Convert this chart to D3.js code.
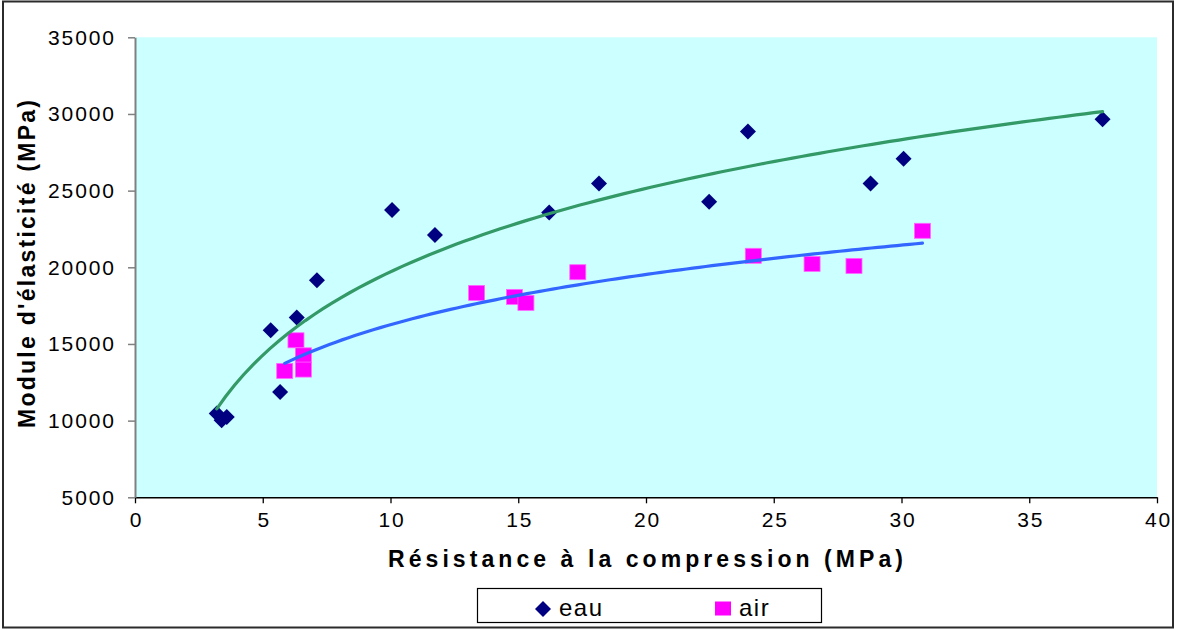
<!DOCTYPE html>
<html>
<head>
<meta charset="utf-8">
<script src="https://cdn.jsdelivr.net/npm/d3@7"></script>
<style>
  html, body { margin: 0; padding: 0; background: #ffffff; }
  svg { display: block; font-family: "Liberation Sans", Arial, sans-serif; }
</style>
</head>
<body>
<svg id="chart" width="1178" height="630"></svg>
<script>
// Compression strength (MPa) vs elastic modulus (MPa), two curing conditions
const eauX = [3.20, 3.39, 3.59, 5.68, 5.31, 6.33, 7.12, 10.06, 11.74, 16.21, 18.16, 22.47, 23.99, 28.79, 30.08, 37.87];
const eauY = [10460, 10020, 10240, 11870, 15900, 16720, 19160, 23730, 22100, 23580, 25470, 24270, 28850, 25470, 27080, 29650];
const airX = [5.86, 6.30, 6.59, 6.59, 13.37, 14.85, 15.30, 17.33, 24.20, 26.50, 28.14, 30.82];
const airY = [13240, 15240, 14260, 13330, 18330, 18070, 17680, 19680, 20750, 20220, 20090, 22380];
const xTicks = [0, 5, 10, 15, 20, 25, 30, 35, 40];
const yTicks = [5000, 10000, 15000, 20000, 25000, 30000, 35000];
const seriesNames = ["eau", "air"];

const svg = d3.select("#chart");

// outer frame
svg.append("rect")
  .attr("x", 3).attr("y", 1.5).attr("width", 1170).attr("height", 626)
  .attr("fill", "#ffffff").attr("stroke", "#2b2b2b").attr("stroke-width", 2);

const x = d3.scaleLinear().domain([0, 40]).range([135, 1157]);
const y = d3.scaleLinear().domain([5000, 35000]).range([497.3, 37.3]);

// plot background
svg.append("rect")
  .attr("x", x(0)).attr("y", y(35000))
  .attr("width", x(40) - x(0)).attr("height", y(5000) - y(35000))
  .attr("fill", "#ccffff");

// axes
const gx = svg.append("g").attr("transform", `translate(0,${y(5000)})`)
  .call(d3.axisBottom(x).tickValues(xTicks).tickSize(6).tickSizeOuter(0).tickPadding(9));
gx.select(".domain").attr("stroke", "#000").attr("stroke-width", 1.5);
gx.selectAll(".tick line").attr("stroke", "#000").attr("stroke-width", 1.3);
gx.selectAll(".tick text")
  .attr("fill", "#000").attr("font-size", 21).style("letter-spacing", "1.9px")
  .attr("font-family", "Liberation Sans, Arial, sans-serif")
  .attr("dx", "0.95px");

const gy = svg.append("g").attr("transform", `translate(${x(0)},0)`)
  .call(d3.axisLeft(y).tickValues(yTicks).tickSize(7).tickSizeOuter(0).tickPadding(14).tickFormat(d3.format("d")));
gy.select(".domain").attr("stroke", "#808080").attr("stroke-width", 2);
gy.selectAll(".tick line").attr("stroke", "#808080").attr("stroke-width", 1.5);
gy.selectAll(".tick text")
  .attr("fill", "#000").attr("font-size", 21).style("letter-spacing", "1.9px")
  .attr("font-family", "Liberation Sans, Arial, sans-serif")
  .attr("dx", "1.9px");

// logarithmic least-squares trend: y = a*ln(x) + b
function logFit(xs, ys) {
  const lx = xs.map(Math.log);
  const mx = d3.mean(lx), my = d3.mean(ys);
  let sxy = 0, sxx = 0;
  lx.forEach((v, i) => { sxy += (v - mx) * (ys[i] - my); sxx += (v - mx) * (v - mx); });
  const a = sxy / sxx;
  const b = my - a * mx;
  const [lo, hi] = d3.extent(xs);
  return d3.range(0, 101).map(i => {
    const xv = lo + (hi - lo) * i / 100;
    return [xv, a * Math.log(xv) + b];
  });
}

const line = d3.line().x(d => x(d[0])).y(d => y(d[1]));

// markers
const diamond = d3.symbol().type(d3.symbolSquare).size(128);
svg.append("g").selectAll("path")
  .data(eauX.map((v, i) => [v, eauY[i]]))
  .join("path")
  .attr("d", diamond)
  .attr("transform", d => `translate(${x(d[0])},${y(d[1])}) rotate(45)`)
  .attr("fill", "#000080");

svg.append("g").selectAll("rect")
  .data(airX.map((v, i) => [v, airY[i]]))
  .join("rect")
  .attr("x", d => x(d[0]) - 8).attr("y", d => y(d[1]) - 7.5)
  .attr("width", 16).attr("height", 15)
  .attr("fill", "#ff00ff").attr("stroke", "#ff66ff").attr("stroke-width", 0.8);

// trend lines
svg.append("path").datum(logFit(eauX, eauY))
  .attr("d", line).attr("fill", "none")
  .attr("stroke", "#339966").attr("stroke-width", 3.2).attr("stroke-linecap", "round");
svg.append("path").datum(logFit(airX, airY))
  .attr("d", line).attr("fill", "none")
  .attr("stroke", "#3366ff").attr("stroke-width", 3.2).attr("stroke-linecap", "round");

// axis titles
svg.append("text")
  .attr("x", 645.5).attr("y", 567)
  .attr("text-anchor", "middle")
  .attr("font-size", 23).attr("font-weight", "bold")
  .attr("textLength", 515).attr("lengthAdjust", "spacing")
  .text("Résistance à la compression (MPa)");

svg.append("text")
  .attr("transform", "translate(35,264) rotate(-90)")
  .attr("text-anchor", "middle")
  .attr("font-size", 23).attr("font-weight", "bold")
  .attr("textLength", 328).attr("lengthAdjust", "spacing")
  .text("Module d'élasticité (MPa)");

// legend
const lg = svg.append("g");
lg.append("rect")
  .attr("x", 477.5).attr("y", 588.5).attr("width", 344).attr("height", 34)
  .attr("fill", "#ffffff").attr("stroke", "#000").attr("stroke-width", 1.2);
lg.append("path")
  .attr("d", diamond)
  .attr("transform", "translate(543,609) rotate(45)")
  .attr("fill", "#000080");
lg.append("text")
  .attr("x", 559).attr("y", 616)
  .attr("font-size", 24).style("letter-spacing", "1.5px")
  .text(seriesNames[0]);
lg.append("rect")
  .attr("x", 715).attr("y", 601.5).attr("width", 16).attr("height", 14)
  .attr("fill", "#ff00ff");
lg.append("text")
  .attr("x", 739).attr("y", 616)
  .attr("font-size", 24).style("letter-spacing", "1.5px")
  .text(seriesNames[1]);
</script>
</body>
</html>
